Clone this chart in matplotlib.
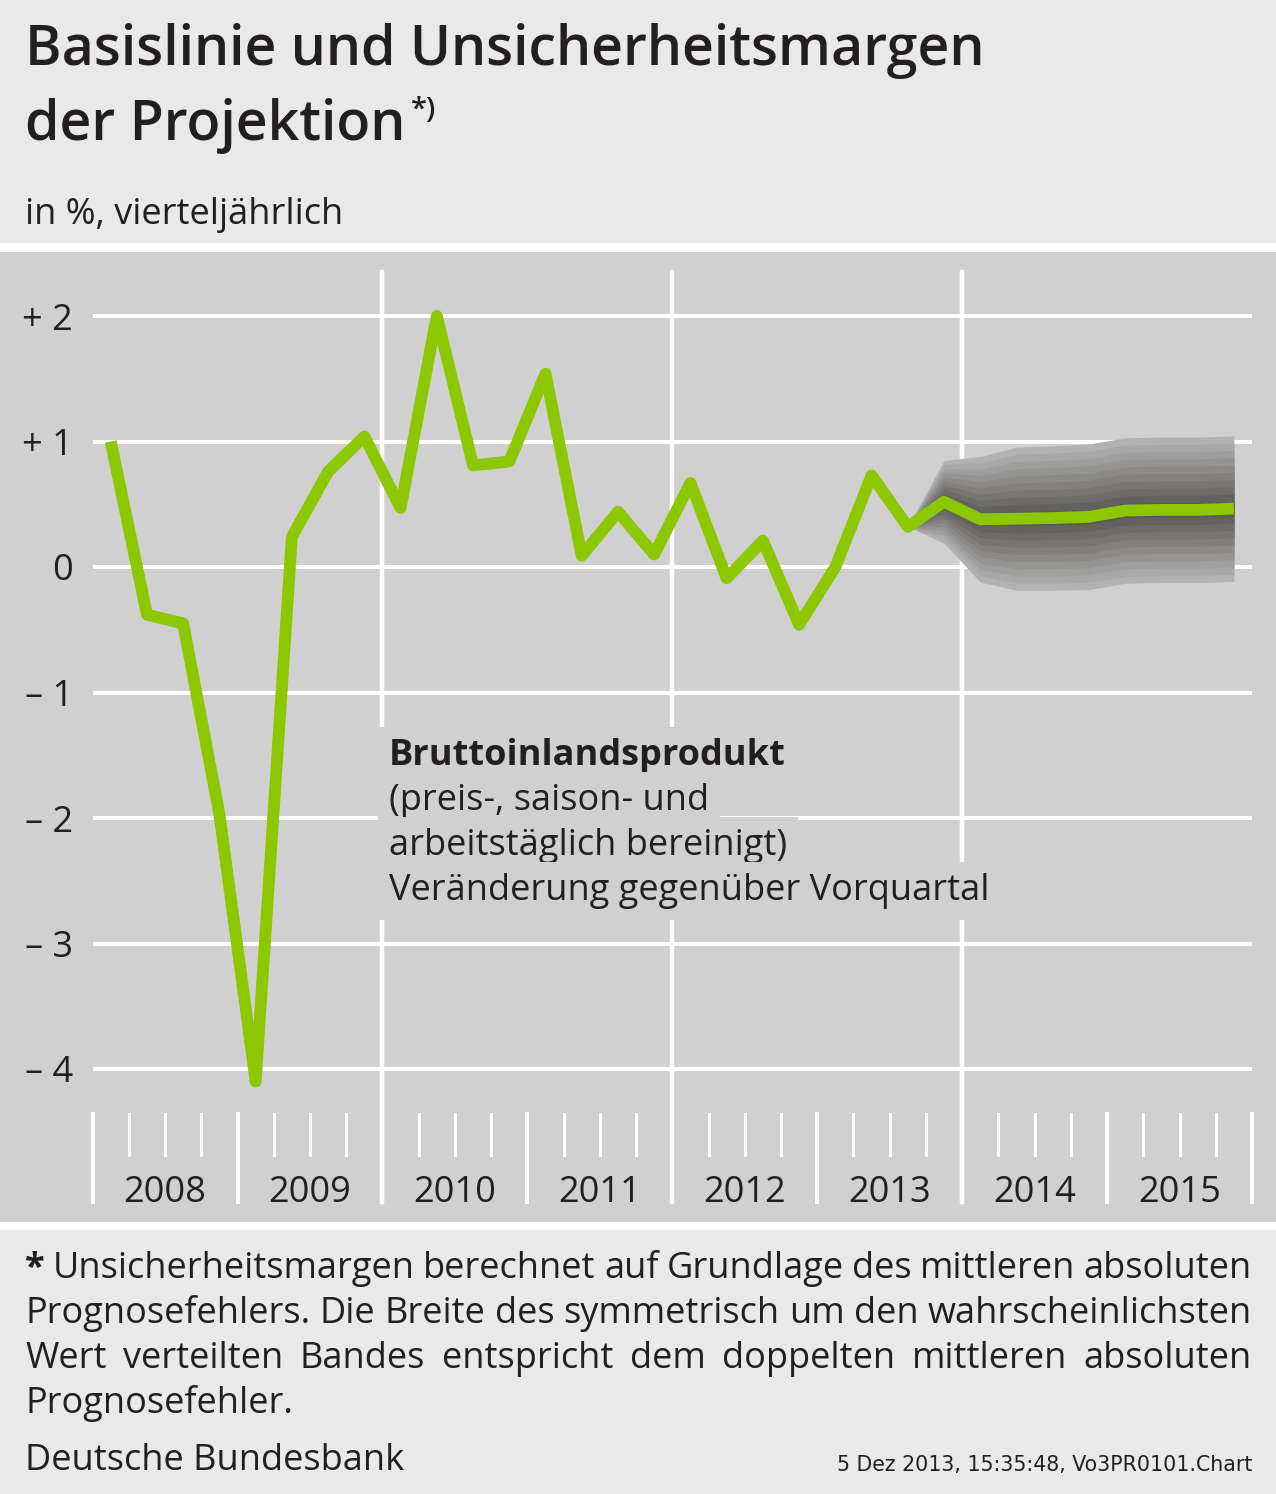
import numpy as np
import matplotlib.pyplot as plt
from matplotlib import font_manager
from matplotlib.patches import Rectangle
from matplotlib.transforms import blended_transform_factory

# GDP, price-, seasonally and calendar adjusted, q/q change in %, 2008Q1 - 2015Q4
gdp = [1.0, -0.38, -0.45, -1.97,
       -4.1, 0.24, 0.76, 1.04,
       0.47, 2.0, 0.81, 0.84,
       1.54, 0.09, 0.44, 0.10,
       0.67, -0.09, 0.21, -0.46,
       0.0, 0.73, 0.32, 0.52,
       0.38, 0.385, 0.39, 0.40,
       0.45, 0.455, 0.455, 0.465]
# half width of the uncertainty band, from 2013Q3 (last observation) to 2015Q4
fan_start = 22
fan_halfwidth = [0.0, 0.33, 0.50, 0.57, 0.575, 0.58, 0.58, 0.58, 0.58, 0.58]
years = ['2008', '2009', '2010', '2011', '2012', '2013', '2014', '2015']
yticks = [-4, -3, -2, -1, 0, 1, 2]
ylabels = ['\u2013 4', '\u2013 3', '\u2013 2', '\u2013 1', '0', '+ 1', '+ 2']

W, H = 1276, 1494
BG = '#E8E9E8'
PLOT_BG = '#CFD0CF'
TXT = '#231F20'
GREEN = '#8CC700'

plt.rcParams['font.family'] = ['Open Sans', 'DejaVu Sans']


def fx(px):
    return px / W


def fy(py):
    return 1 - py / H


fig = plt.figure(figsize=(W / 100, H / 100), dpi=100, facecolor=BG)

# background bands
fig.add_artist(Rectangle((0, fy(252)), 1, fy(243) - fy(252), transform=fig.transFigure,
                         facecolor='white', edgecolor='none', zorder=-2))
fig.add_artist(Rectangle((0, fy(1222)), 1, fy(252) - fy(1222), transform=fig.transFigure,
                         facecolor=PLOT_BG, edgecolor='none', zorder=-2))
fig.add_artist(Rectangle((0, fy(1230)), 1, fy(1222) - fy(1230), transform=fig.transFigure,
                         facecolor='white', edgecolor='none', zorder=-2))

# axes: x in quarters since 2008Q1, y in percent
ax_top, ax_bot = 252, 1222
zero_px, unit_px = 567, 125.5
ax = fig.add_axes([fx(92.6), fy(ax_bot), fx(1252) - fx(92.6), fy(ax_top) - fy(ax_bot)])
ax.set_xlim(0, 4 * len(years))
ax.set_ylim((zero_px - ax_bot) / unit_px, (zero_px - ax_top) / unit_px)
ax.patch.set_visible(False)
for s in ax.spines.values():
    s.set_visible(False)


def afrac(py):
    return (ax_bot - py) / (ax_bot - ax_top)


ax.set_xticks([])
ax.set_yticks(yticks)
ax.set_yticklabels(ylabels, fontsize=26, color=TXT)
ax.tick_params(axis='y', length=0, pad=14)

for t in yticks:
    ax.axhline(t, color='white', lw=2.9, zorder=1)

# year and quarter ticks
for q in range(4 * len(years) + 1):
    if q % 8 == 0 and 0 < q < 32:
        ax.axvline(q, ymin=afrac(1202), ymax=afrac(272), color='white', lw=3.2, zorder=1)
    elif q % 4 == 0:
        ax.axvline(q, ymin=afrac(1202), ymax=afrac(1114), color='white', lw=2.9,
                   zorder=1, clip_on=False)
    else:
        ax.axvline(q, ymin=afrac(1155), ymax=afrac(1114), color='white', lw=2.2, zorder=1)

trans = blended_transform_factory(ax.transData, ax.transAxes)
for k, yr in enumerate(years):
    ax.text(4 * k + 2, afrac(1202), yr, transform=trans, ha='center', va='baseline',
            fontsize=26, color=TXT)

# uncertainty fan
x = np.arange(len(gdp)) + 0.5
xf = x[fan_start:]
cf = np.array(gdp[fan_start:])
hw = np.array(fan_halfwidth)
n_layers = 10
inner = np.array([0x5A, 0x58, 0x54]) / 255
outer = np.array([0xB2, 0xB2, 0xB2]) / 255
for k in range(n_layers, 0, -1):
    col = inner + (outer - inner) * (k - 1) / (n_layers - 1)
    ax.fill_between(xf, cf - hw * k / n_layers, cf + hw * k / n_layers,
                    color=col, lw=0, zorder=2)

ax.plot(x, gdp, color=GREEN, lw=8.5, solid_joinstyle='round', solid_capstyle='butt', zorder=3)

# annotation, each line on its own background box
note = [('Bruttoinlandsprodukt', 'bold'),
        ('(preis-, saison- und', 'normal'),
        ('arbeitst\u00e4glich bereinigt)', 'normal'),
        ('Ver\u00e4nderung gegen\u00fcber Vorquartal', 'normal')]
for i, (line, wt) in enumerate(note):
    fig.text(fx(389), fy(765 + 45 * i), line, fontsize=26, fontweight=wt, color=TXT,
             va='baseline', zorder=5,
             bbox=dict(facecolor=PLOT_BG, edgecolor='none', pad=8))

# title
fig.text(fx(25), fy(65), 'Basislinie und Unsicherheitsmargen', fontsize=40,
         fontweight='semibold', color=TXT, va='baseline')
t2 = fig.text(fx(25), fy(140), 'der Projektion', fontsize=40,
              fontweight='semibold', color=TXT, va='baseline')
fig.text(fx(25), fy(224), 'in %, viertelj\u00e4hrlich', fontsize=26, color=TXT, va='baseline')

r = fig.canvas.get_renderer()
bb = t2.get_window_extent(r)
fig.text(fx(bb.x1 + 6), fy(118), '*)', fontsize=21, fontweight='semibold', color=TXT,
         va='baseline')


def justify(words, y, x0, x1, size, bold_first=False):
    texts = []
    for i, w in enumerate(words):
        wt = 'bold' if (bold_first and i == 0) else 'normal'
        texts.append(fig.text(0, fy(y), w, fontsize=size, fontweight=wt, color=TXT,
                              va='baseline'))
    widths = [t.get_window_extent(r).width for t in texts]
    gap = (x1 - x0 - sum(widths)) / (len(words) - 1)
    xp = x0
    for t, w in zip(texts, widths):
        t.set_x(fx(xp))
        xp += w + gap


foot = ['* Unsicherheitsmargen berechnet auf Grundlage des mittleren absoluten',
        'Prognosefehlers. Die Breite des symmetrisch um den wahrscheinlichsten',
        'Wert verteilten Bandes entspricht dem doppelten mittleren absoluten']
for i, line in enumerate(foot):
    justify(line.split(), 1278 + 45 * i, 25, 1252, 26, bold_first=(i == 0))
fig.text(fx(25), fy(1278 + 45 * 3), 'Prognosefehler.', fontsize=26, color=TXT, va='baseline')

fig.text(fx(25), fy(1470), 'Deutsche Bundesbank', fontsize=26, color=TXT, va='baseline')

# narrow font for the time stamp if one is installed, else shrink to fit
narrow = None
for f in font_manager.fontManager.ttflist:
    if 'Narrow' in f.name or 'Condensed' in f.name or f.stretch == 'condensed':
        narrow = f.name
        break
stamp = fig.text(fx(1252), fy(1471), '5 Dez 2013, 15:35:48, Vo3PR0101.Chart', fontsize=18.5,
                 color=TXT, ha='right', va='baseline',
                 family=[narrow] if narrow else ['DejaVu Sans'])
sw = stamp.get_window_extent(r).width
if sw > 425:
    stamp.set_fontsize(18.5 * 418 / sw)

fig.savefig('out.png', dpi=100, facecolor=BG)
